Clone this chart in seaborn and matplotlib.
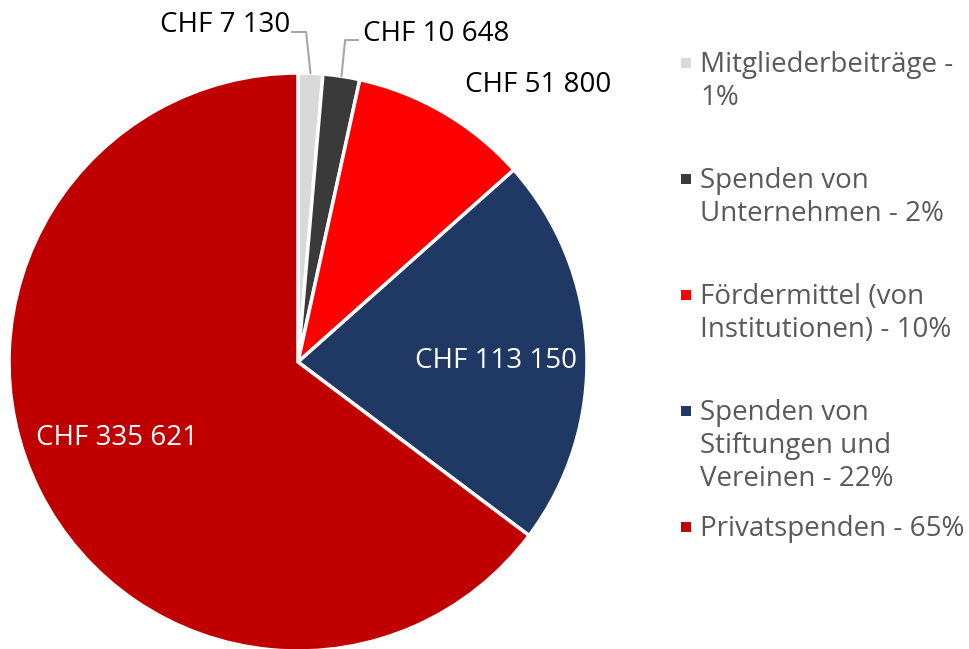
import numpy as np
import matplotlib
matplotlib.use("Agg")
import matplotlib.pyplot as plt
import seaborn as sns
from matplotlib.patches import Rectangle

# data
categories = ["Mitgliederbeiträge", "Spenden von Unternehmen",
              "Fördermittel (von Institutionen)", "Spenden von Stiftungen und Vereinen",
              "Privatspenden"]
values = [7130, 10648, 51800, 113150, 335621]
value_labels = ["CHF 7 130", "CHF 10 648", "CHF 51 800", "CHF 113 150", "CHF 335 621"]
legend_labels = ["Mitgliederbeiträge -\n1%",
                 "Spenden von\nUnternehmen - 2%",
                 "Fördermittel (von\nInstitutionen) - 10%",
                 "Spenden von\nStiftungen und\nVereinen - 22%",
                 "Privatspenden - 65%"]
colors = ["#d9d9d9", "#3a3a3a", "#ff0000", "#1f3864", "#c00000"]

sns.set_theme(style="white")
plt.rcParams['font.family'] = ['Open Sans', 'DejaVu Sans']

W, H = 970, 649
fig = plt.figure(figsize=(W / 100, H / 100), dpi=100)

# pie centre (298, 362) px, radius 289 px
cx, cy, r = 298, 362, 289
ax = fig.add_axes([(cx - r) / W, (H - cy - r) / H, 2 * r / W, 2 * r / H])
wedges, _ = ax.pie(values, colors=colors, startangle=90, counterclock=False,
                   radius=1, wedgeprops=dict(edgecolor="white", linewidth=2.5))
ax.set_xlim(-1, 1)
ax.set_ylim(-1, 1)
ax.set_aspect("equal")
ax.axis("off")

# angles of wedge middles (clockwise from top)
frac = np.array(values) / np.sum(values)
ends = np.cumsum(frac) * 360
mids = ends - frac * 180

def edge_point(i, rad=1.0):
    a = np.deg2rad(mids[i])
    return rad * np.sin(a), rad * np.cos(a)

lab_size = 20
line_col = "#a6a6a6"

# small slices: labels with leader lines
x0, y0 = edge_point(0)
ax.plot([-0.021, 0.028, x0], [1.142, 1.142, y0], color=line_col, lw=1.5, clip_on=False)
ax.text(-0.028, 1.142, value_labels[0], ha="right", va="baseline", fontsize=lab_size, color="black")

x1, y1 = edge_point(1)
ax.plot([0.208, 0.163, x1], [1.114, 1.114, y1], color=line_col, lw=1.5, clip_on=False)
ax.text(0.225, 1.111, value_labels[1], ha="left", va="baseline", fontsize=lab_size, color="black")

ax.text(0.83, 0.934, value_labels[2], ha="center", va="baseline", fontsize=lab_size, color="black")

x3, y3 = edge_point(3, 0.685)
ax.text(x3, y3 - 0.05, value_labels[3], ha="center", va="baseline", fontsize=lab_size, color="white")
x4, y4 = edge_point(4, 0.70)
ax.text(x4, y4 + 0.026, value_labels[4], ha="center", va="baseline", fontsize=lab_size, color="white")

# legend drawn by hand: entries start every 116 px, lines 33 px apart
for i, (lab, col) in enumerate(zip(legend_labels, colors)):
    base = 72 + i * 116
    fig.patches.append(Rectangle((681 / W, 1 - (base - 4) / H), 10 / W, 10 / H,
                                 transform=fig.transFigure, facecolor=col, edgecolor="none"))
    for j, line in enumerate(lab.split("\n")):
        fig.text(700 / W, 1 - (base + 33 * j) / H, line, ha="left", va="baseline",
                 fontsize=lab_size, color="#595959")

fig.savefig("out.png", dpi=100)
